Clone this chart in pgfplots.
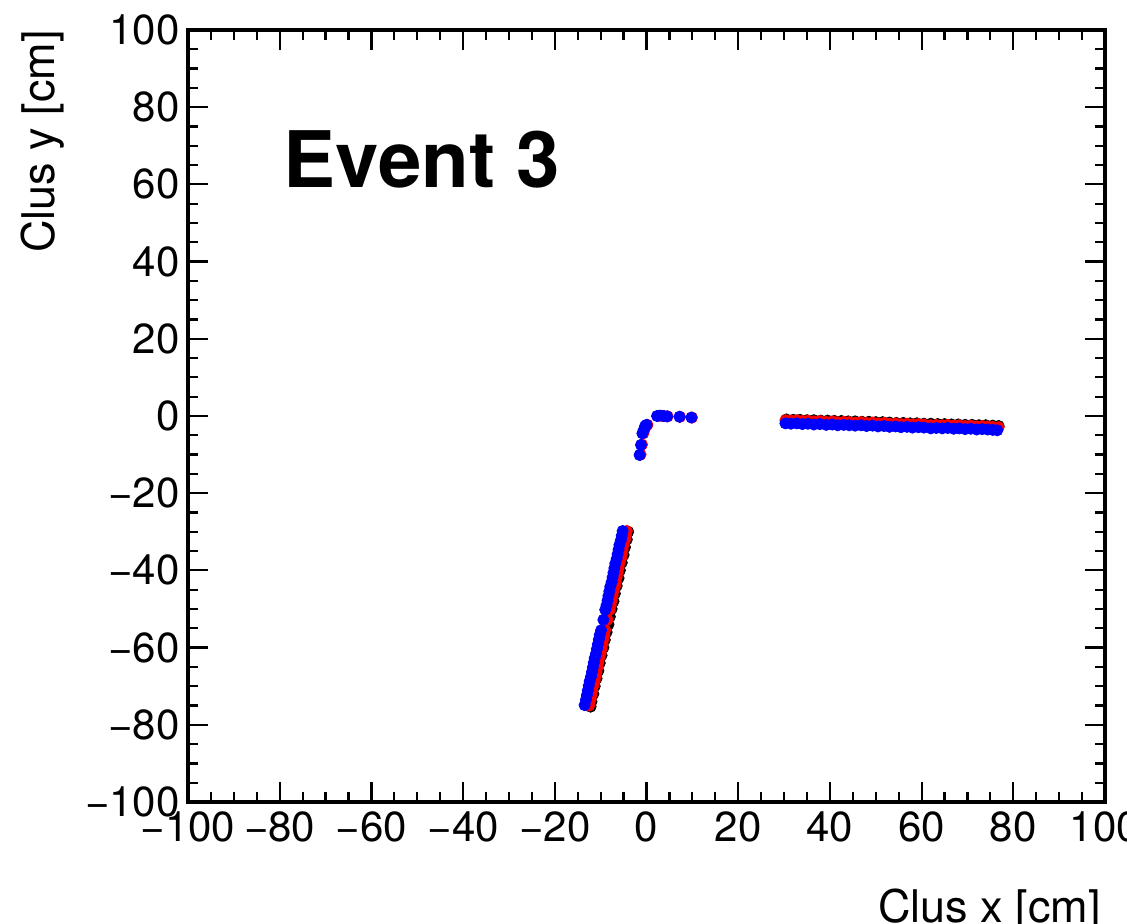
\documentclass[border=0pt]{standalone}
\usepackage{pgfplots}
\pgfplotsset{compat=1.18}
\usepackage{fontspec}
\setmainfont{TeX Gyre Heros}
\begin{document}
\begin{tikzpicture}
\begin{axis}[
  at={(0,0)}, anchor=south west,
  scale only axis, width=458.5pt, height=386pt,
  xmin=-100, xmax=100, ymin=-100, ymax=100,
  xtick={-100,-80,...,100}, ytick={-100,-80,...,100},
  xticklabels={−100,−80,−60,−40,−20,0,20,40,60,80,100},
  yticklabels={−100,−80,−60,−40,−20,0,20,40,60,80,100},
  minor tick num=3,
  tick align=inside,
  major tick length=10pt, minor tick length=5pt,
  every tick/.style={black, line width=1.1pt},
  axis line style={line width=2pt},
  tick label style={font=\fontsize{21}{25}\selectfont},
  yticklabel style={inner sep=4pt},
  xticklabel style={inner sep=4.5pt},
  xlabel={Clus x [cm]}, ylabel={Clus y [cm]},
  every axis x label/.style={at={(axis description cs:1,0)}, anchor=base east, inner sep=0pt, yshift=-60pt, xshift=-2pt, font=\fontsize{22.5}{26}\selectfont},
  every axis y label/.style={at={(axis description cs:-0.156,1)}, anchor=east, rotate=90, inner sep=0pt, yshift=1pt, font=\fontsize{22.5}{26}\selectfont},
  clip=false,
]
% black series
\addplot[only marks, mark=*, mark size=2.8pt, black] coordinates {
(30.5,-0.9) (32.0,-1.0) (33.5,-1.0) (35.0,-1.1) (36.5,-1.1) (38.0,-1.2) (39.5,-1.2) (41.0,-1.3) (42.5,-1.3) (44.0,-1.4) (45.5,-1.4) (47.0,-1.5) (48.5,-1.5) (50.0,-1.6) (51.5,-1.6) (53.0,-1.7) (54.5,-1.8) (56.0,-1.8) (57.5,-1.9) (59.0,-1.9) (60.5,-2.0) (62.0,-2.0) (63.5,-2.1) (65.0,-2.1) (66.5,-2.2) (68.0,-2.2) (69.5,-2.3) (71.0,-2.3) (72.5,-2.4) (74.0,-2.4) (75.5,-2.5) (76.8,-2.6)
(-4.0,-30.0) (-4.3,-32.0) (-4.7,-34.0) (-5.0,-36.0) (-5.4,-38.0) (-5.8,-40.0) (-6.1,-42.0) (-6.5,-44.0) (-6.9,-46.0) (-7.2,-48.0) (-7.6,-50.0) (-8.0,-52.0) (-8.3,-54.0) (-8.7,-56.0) (-9.1,-58.0) (-9.4,-60.0) (-9.8,-62.0) (-10.2,-64.0) (-10.5,-66.0) (-10.9,-68.0) (-11.3,-70.0) (-11.6,-72.0) (-12.0,-74.0) (-12.2,-75.3)
};
% red series
\addplot[only marks, mark=*, mark size=2.8pt, red] coordinates {
(30.3,-1.1) (31.5,-1.2) (32.8,-1.1) (34.0,-1.3) (35.2,-1.2) (36.5,-1.4) (37.8,-1.3) (39.2,-1.5) (40.5,-1.4) (41.7,-1.6) (43.0,-1.5) (44.2,-1.6) (45.5,-1.7) (46.8,-1.6) (48.0,-1.8) (49.3,-1.7) (50.5,-1.9) (51.8,-1.8) (53.0,-2.0) (54.3,-1.9) (55.5,-2.1) (56.8,-2.0) (58.0,-2.2) (59.3,-2.1) (60.5,-2.2) (62.0,-2.4) (63.2,-2.3) (64.5,-2.4) (65.7,-2.3) (67.0,-2.5) (68.2,-2.4) (69.5,-2.6) (70.7,-2.5) (72.0,-2.7) (73.2,-2.6) (74.4,-2.7) (75.5,-2.8) (76.8,-2.9)
(-4.3,-29.8) (-4.5,-31.0) (-4.7,-32.2) (-5.0,-33.4) (-5.2,-34.6) (-5.4,-35.8) (-5.6,-37.0) (-5.9,-38.2) (-6.1,-39.4) (-6.3,-40.6) (-6.5,-41.8) (-6.7,-43.0) (-6.9,-44.2) (-7.2,-45.4) (-7.4,-46.6) (-7.6,-47.8) (-7.8,-49.0) (-8.0,-50.2) (-8.5,-52.8) (-9.0,-55.5) (-9.2,-56.7) (-9.4,-57.9) (-9.6,-59.1) (-9.8,-60.3) (-10.0,-61.5) (-10.3,-62.7) (-10.5,-63.9) (-10.7,-65.1) (-10.9,-66.3) (-11.1,-67.5) (-11.3,-68.7) (-11.6,-69.9) (-11.8,-71.1) (-12.0,-72.3) (-12.2,-73.5) (-12.5,-75.0)
(-1.3,-10.0) (-1.0,-7.4) (-0.7,-4.5) (-0.4,-3.4) (0.2,-2.3) (2.5,0.0) (3.5,0.0) (4.6,-0.1) (7.3,-0.2) (9.9,-0.4)
};
% blue series
\addplot[only marks, mark=*, mark size=2.8pt, blue] coordinates {
(30.3,-1.9) (31.5,-2.0) (32.8,-1.9) (34.0,-2.1) (35.2,-2.0) (36.5,-2.2) (37.8,-2.1) (39.2,-2.3) (40.5,-2.2) (41.7,-2.4) (43.0,-2.3) (44.2,-2.4) (45.5,-2.5) (46.8,-2.4) (48.0,-2.6) (49.3,-2.5) (50.5,-2.7) (51.8,-2.6) (53.0,-2.8) (54.3,-2.7) (55.5,-2.9) (56.8,-2.8) (58.0,-3.0) (59.3,-2.9) (60.5,-3.0) (62.0,-3.2) (63.2,-3.1) (64.5,-3.2) (65.7,-3.1) (67.0,-3.3) (68.2,-3.2) (69.5,-3.4) (70.7,-3.3) (72.0,-3.5) (73.2,-3.4) (74.4,-3.5) (75.5,-3.6) (76.5,-3.7)
(-5.2,-29.8) (-5.4,-31.0) (-5.6,-32.2) (-5.9,-33.4) (-6.1,-34.6) (-6.3,-35.8) (-6.5,-37.0) (-6.8,-38.2) (-7.0,-39.4) (-7.2,-40.6) (-7.4,-41.8) (-7.6,-43.0) (-7.9,-44.2) (-8.1,-45.4) (-8.3,-46.6) (-8.5,-47.8) (-8.7,-49.0) (-9.0,-50.2) (-9.4,-52.8) (-9.9,-55.5) (-10.2,-56.7) (-10.4,-57.9) (-10.6,-59.1) (-10.8,-60.3) (-11.0,-61.5) (-11.3,-62.7) (-11.5,-63.9) (-11.7,-65.1) (-11.9,-66.3) (-12.1,-67.5) (-12.4,-68.7) (-12.6,-69.9) (-12.8,-71.1) (-13.0,-72.3) (-13.2,-73.5) (-13.5,-74.9)
(-1.5,-10.1) (-1.2,-7.5) (-0.9,-4.5) (-0.6,-3.6) (-0.3,-2.6) (0.0,-2.3) (2.3,0.0) (3.0,0.1) (3.8,0.0) (4.5,-0.1) (7.2,-0.2) (9.8,-0.4)
};
\node[anchor=base west, inner sep=0pt, font=\fontsize{39}{44}\selectfont\bfseries] at (axis cs:-79.2,59.3) {Event 3};
\end{axis}
\pgfresetboundingbox
\path[use as bounding box] (-94pt,-61pt) rectangle (469.5pt,401pt);
\end{tikzpicture}
\end{document}
